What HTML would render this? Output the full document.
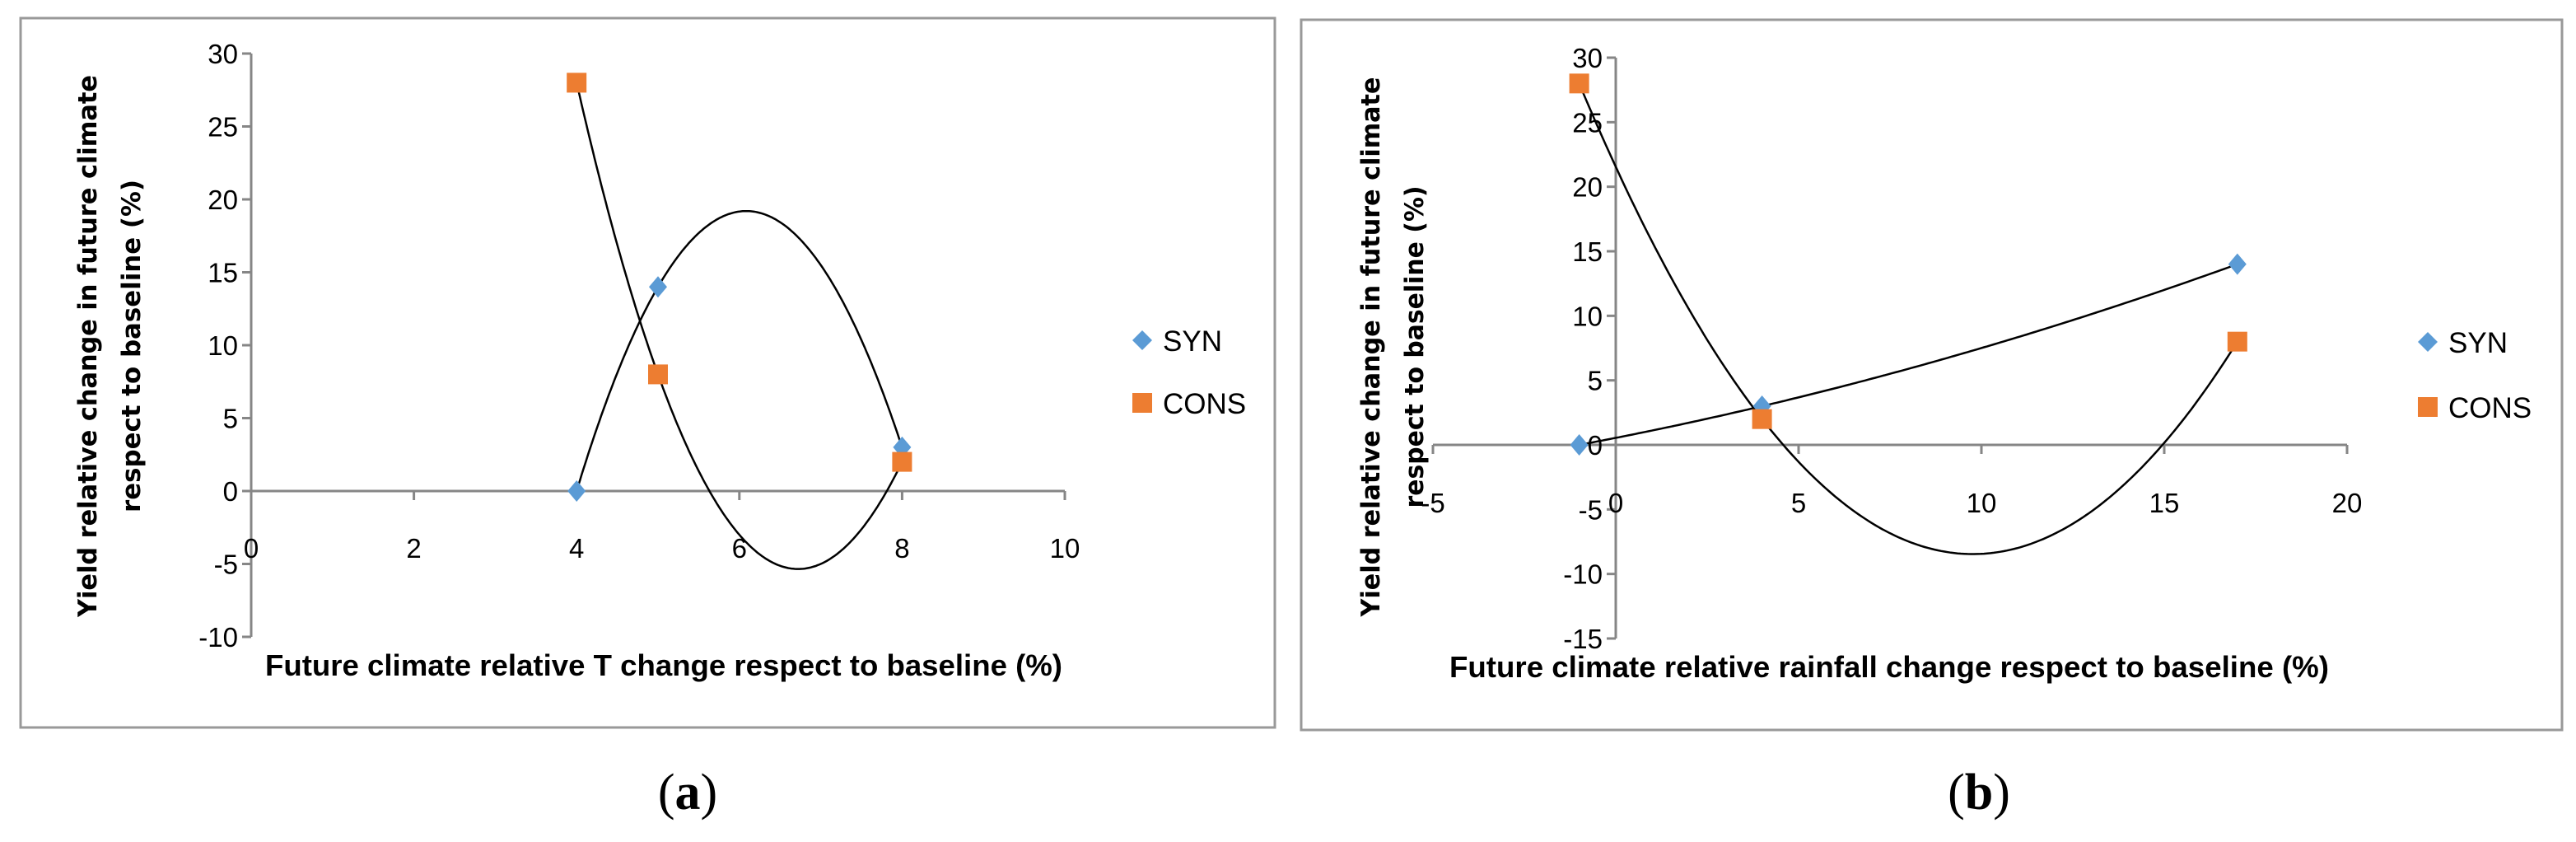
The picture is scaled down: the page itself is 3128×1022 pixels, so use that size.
<!DOCTYPE html>
<html><head><meta charset="utf-8"><style>
html,body{margin:0;padding:0;background:#fff;}
svg{display:block;}
.tick{font-family:"Liberation Sans Narrow","Liberation Sans",sans-serif;font-size:33px;fill:#000;}
.leg{font-family:"Liberation Sans Narrow","Liberation Sans",sans-serif;font-size:35px;fill:#000;}
.xt{font-family:"Liberation Sans Narrow","Liberation Sans",sans-serif;font-size:36px;font-weight:bold;fill:#000;}
.yt{font-family:"DejaVu Sans",sans-serif;font-size:31px;font-weight:bold;fill:#000;}
.cap{font-family:"Liberation Serif",serif;font-size:62px;fill:#000;}
</style></head><body>
<svg id="fig" width="3128" height="1022" viewBox="0 0 3128 1022" xmlns="http://www.w3.org/2000/svg">
<rect x="25" y="22" width="1523" height="861" fill="none" stroke="#999" stroke-width="3"/>
<rect x="1580" y="24" width="1531" height="862" fill="none" stroke="#999" stroke-width="3"/>
<g id="pa"></g>
<g id="pb"></g>
<text class="xt" x="806" y="820" text-anchor="middle" textLength="968" lengthAdjust="spacingAndGlyphs">Future climate relative T change respect to baseline (%)</text>
<text class="xt" x="2294" y="822" text-anchor="middle" textLength="1068" lengthAdjust="spacingAndGlyphs">Future climate relative rainfall change respect to baseline (%)</text>
<g transform="translate(117,420) rotate(-90)">
<text class="yt" x="0" y="0" text-anchor="middle" textLength="658" lengthAdjust="spacingAndGlyphs">Yield relative change in future climate</text>
<text class="yt" x="0" y="53" text-anchor="middle" textLength="404" lengthAdjust="spacingAndGlyphs">respect to baseline  (%)</text>
</g>
<g transform="translate(1675,421) rotate(-90)">
<text class="yt" x="0" y="0" text-anchor="middle" textLength="655" lengthAdjust="spacingAndGlyphs">Yield relative change in future climate</text>
<text class="yt" x="0" y="53" text-anchor="middle" textLength="391" lengthAdjust="spacingAndGlyphs">respect to baseline (%)</text>
</g>
<text class="cap" x="835" y="982" text-anchor="middle">(<tspan font-weight="bold">a</tspan>)</text>
<text class="cap" x="2403" y="982" text-anchor="middle">(<tspan font-weight="bold">b</tspan>)</text>
</svg>
<script>
// Panel (a) data
const aXTicks = [0, 2, 4, 6, 8, 10];
const aYTicks = [30, 25, 20, 15, 10, 5, 0, -5, -10];
const aSynX = [4, 5, 8];
const aSynY = [0, 14, 3];
const aConsX = [4, 5, 8];
const aConsY = [28, 8, 2];
// Panel (b) data
const bXTicks = [-5, 0, 5, 10, 15, 20];
const bYTicks = [30, 25, 20, 15, 10, 5, 0, -5, -10, -15];
const bSynX = [-1, 4, 17];
const bSynY = [0, 3, 14];
const bConsX = [-1, 4, 17];
const bConsY = [28, 2, 8];

const NS = "http://www.w3.org/2000/svg";
function mk(parent, tag, attrs) {
  const e = document.createElementNS(NS, tag);
  for (const k in attrs) e.setAttribute(k, attrs[k]);
  parent.appendChild(e);
  return e;
}
function quad(xs, ys, x) {
  let s = 0;
  for (let i = 0; i < xs.length; i++) {
    let l = 1;
    for (let j = 0; j < xs.length; j++) if (j !== i) l *= (x - xs[j]) / (xs[i] - xs[j]);
    s += ys[i] * l;
  }
  return s;
}
function drawChart(g, cfg) {
  const sx = v => cfg.x0 + (v - cfg.xmin) / (cfg.xmax - cfg.xmin) * (cfg.x1 - cfg.x0);
  const sy = v => cfg.y0 + (cfg.ymax - v) / (cfg.ymax - cfg.ymin) * (cfg.y1 - cfg.y0);
  const ax = sy(0), ay = sx(0);
  const yl = mk(g, "line", {x1: ay, y1: sy(cfg.ymax), x2: ay, y2: sy(cfg.ymin), stroke: "#868686", "stroke-width": 3});
  
  
  const xl = mk(g, "line", {x1: sx(cfg.xmin), y1: ax, x2: sx(cfg.xmax), y2: ax, stroke: "#868686", "stroke-width": 3});
  
  
  cfg.yTicks.forEach(v => {
    mk(g, "line", {x1: ay - 11, y1: sy(v), x2: ay, y2: sy(v), stroke: "#868686", "stroke-width": 3});
    const t = mk(g, "text", {x: ay - 16, y: sy(v) + 12, "text-anchor": "end", class: "tick"});
    t.textContent = v;
    
    
  });
  cfg.xTicks.forEach(v => {
    mk(g, "line", {x1: sx(v), y1: ax, x2: sx(v), y2: ax + 11, stroke: "#868686", "stroke-width": 3});
    const t = mk(g, "text", {x: sx(v), y: cfg.xLabelY, "text-anchor": "middle", class: "tick"});
    t.textContent = v;
    
    
  });
  [[cfg.synX, cfg.synY, "syn"], [cfg.consX, cfg.consY, "cons"]].forEach(([xs, ys, nm]) => {
    const lo = Math.min(...xs), hi = Math.max(...xs);
    let d = "";
    for (let i = 0; i <= 200; i++) {
      const x = lo + (hi - lo) * i / 200;
      d += (i ? "L" : "M") + sx(x).toFixed(1) + "," + sy(quad(xs, ys, x)).toFixed(1);
    }
    const p = mk(g, "path", {d: d, fill: "none", stroke: "#000", "stroke-width": 2.5});
    
    
  });
  cfg.synX.forEach((x, i) => {
    const cx = sx(x), cy = sy(cfg.synY[i]);
    const m = mk(g, "polygon", {points: `${cx},${cy-13} ${cx+11},${cy} ${cx},${cy+13} ${cx-11},${cy}`, fill: "#5B9BD5"});
    
    
  });
  cfg.consX.forEach((x, i) => {
    const cx = sx(x), cy = sy(cfg.consY[i]);
    const m = mk(g, "rect", {x: cx - 12, y: cy - 12, width: 24, height: 24, fill: "#ED7D31"});
    
    
  });
  const lx = cfg.legX, l1 = cfg.legY1, l2 = cfg.legY2;
  const d1 = mk(g, "polygon", {points: `${lx},${l1-12} ${lx+12},${l1} ${lx},${l1+12} ${lx-12},${l1}`, fill: "#5B9BD5"});
  
  
  const t1 = mk(g, "text", {x: lx + 25, y: l1 + 13, class: "leg"});
  t1.textContent = "SYN";
  
  
  const d2 = mk(g, "rect", {x: lx - 12, y: l2 - 12, width: 24, height: 24, fill: "#ED7D31"});
  
  
  const t2 = mk(g, "text", {x: lx + 25, y: l2 + 13, class: "leg"});
  t2.textContent = "CONS";
  
  
}
drawChart(document.getElementById("pa"), {
  x0: 305, x1: 1293, xmin: 0, xmax: 10, y0: 65, y1: 773, ymin: -10, ymax: 30,
  xTicks: aXTicks, yTicks: aYTicks, xLabelY: 677,
  synX: aSynX, synY: aSynY, consX: aConsX, consY: aConsY,
  legX: 1387, legY1: 413, legY2: 489
});
drawChart(document.getElementById("pb"), {
  x0: 1740, x1: 2850, xmin: -5, xmax: 20, y0: 70, y1: 775, ymin: -15, ymax: 30,
  xTicks: bXTicks, yTicks: bYTicks, xLabelY: 622,
  synX: bSynX, synY: bSynY, consX: bConsX, consY: bConsY,
  legX: 2948, legY1: 415, legY2: 494
});
</script>
</body></html>
